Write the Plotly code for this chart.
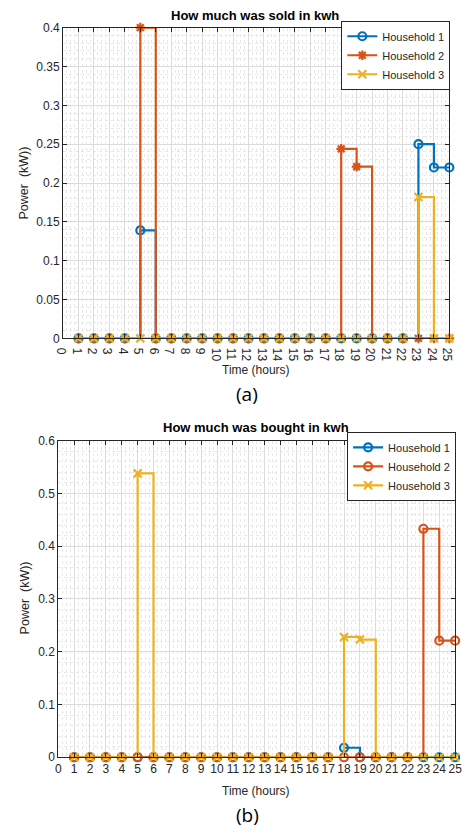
import plotly.graph_objects as go

hours = list(range(1, 26))

sold_h1 = [0, 0, 0, 0, 0.139, 0, 0, 0, 0, 0, 0, 0, 0, 0, 0, 0, 0, 0, 0, 0, 0, 0, 0.250, 0.220, 0.220]
sold_h2 = [0, 0, 0, 0, 0.400, 0, 0, 0, 0, 0, 0, 0, 0, 0, 0, 0, 0, 0.244, 0.221, 0, 0, 0, 0, 0, 0]
sold_h3 = [0, 0, 0, 0, 0, 0, 0, 0, 0, 0, 0, 0, 0, 0, 0, 0, 0, 0, 0, 0, 0, 0, 0.182, 0, 0]

bought_h1 = [0, 0, 0, 0, 0, 0, 0, 0, 0, 0, 0, 0, 0, 0, 0, 0, 0, 0.018, 0, 0, 0, 0, 0, 0, 0]
bought_h2 = [0, 0, 0, 0, 0, 0, 0, 0, 0, 0, 0, 0, 0, 0, 0, 0, 0, 0, 0, 0, 0, 0, 0.433, 0.221, 0.221]
bought_h3 = [0, 0, 0, 0, 0.538, 0, 0, 0, 0, 0, 0, 0, 0, 0, 0, 0, 0, 0.228, 0.223, 0, 0, 0, 0, 0, 0]

x_ticks = list(range(0, 26))
sold_yticks = [0, 0.05, 0.1, 0.15, 0.2, 0.25, 0.3, 0.35, 0.4]
sold_ytext = ["0", "0.05", "0.1", "0.15", "0.2", "0.25", "0.3", "0.35", "0.4"]
bought_yticks = [0, 0.1, 0.2, 0.3, 0.4, 0.5, 0.6]
bought_ytext = ["0", "0.1", "0.2", "0.3", "0.4", "0.5", "0.6"]
names = ["Household 1", "Household 2", "Household 3"]

BLUE, ORANGE, YELLOW = "#0072BD", "#D95319", "#EDB120"
W, H = 466, 839
FONT = "Liberation Sans, Arial, sans-serif"


def px_x(p):
    return p / W


def px_y(p):
    return 1 - p / H


fig = go.Figure()

top_series = [(sold_h1, BLUE, "circle-open"), (sold_h2, ORANGE, "asterisk-open"), (sold_h3, YELLOW, "x-thin-open")]
bot_series = [(bought_h1, BLUE, "circle-open"), (bought_h2, ORANGE, "circle-open"), (bought_h3, YELLOW, "x-thin-open")]

for (vals, col, sym), nm in zip(top_series, names):
    fig.add_trace(go.Scatter(
        x=hours, y=vals, name=nm, mode="lines+markers", line=dict(shape="hv", color=col, width=2.2),
        marker=dict(symbol=sym, size=8, color=col, line=dict(width=2.2, color=col)),
        cliponaxis=False, xaxis="x", yaxis="y", legend="legend"))

for (vals, col, sym), nm in zip(bot_series, names):
    fig.add_trace(go.Scatter(
        x=hours, y=vals, name=nm, mode="lines+markers", line=dict(shape="hv", color=col, width=2.2),
        marker=dict(symbol=sym, size=8, color=col, line=dict(width=2.2, color=col)),
        cliponaxis=False, xaxis="x2", yaxis="y2", legend="legend2"))

axis_common = dict(
    showline=True, linecolor="#262626", linewidth=1, mirror="ticks",
    ticks="inside", ticklen=4, tickcolor="#262626",
    showgrid=True, gridcolor="#dcdcdc", gridwidth=1,
    tickfont=dict(family=FONT, size=12, color="#262626"),
    zeroline=False, fixedrange=True,
)
minor_common = dict(showgrid=True, gridcolor="#e8e8e8", griddash="dot", ticks="")

fig.update_layout(
    width=W, height=H, margin=dict(l=0, r=0, t=0, b=0),
    paper_bgcolor="white", plot_bgcolor="white",
    showlegend=True,
    xaxis=dict(domain=[px_x(56), px_x(456)], range=[0, 25], anchor="y",
               tickvals=x_ticks, ticktext=[str(v) for v in x_ticks],
               minor=dict(dtick=0.25, **minor_common), **axis_common),
    yaxis=dict(domain=[px_y(337), px_y(21)], range=[0, 0.4], anchor="x",
               tickvals=sold_yticks, ticktext=sold_ytext,
               minor=dict(dtick=0.01, **minor_common), **axis_common),
    xaxis2=dict(domain=[px_x(51), px_x(462)], range=[0, 25], anchor="y2",
                tickvals=x_ticks, ticktext=[str(v) for v in x_ticks],
                minor=dict(dtick=0.25, **minor_common), **axis_common),
    yaxis2=dict(domain=[px_y(763), px_y(441)], range=[0, 0.6], anchor="x2",
                tickvals=bought_yticks, ticktext=bought_ytext,
                minor=dict(dtick=0.02, **minor_common), **axis_common),
    legend=dict(x=px_x(457), y=px_y(14), xanchor="right", yanchor="top",
                bgcolor="white", bordercolor="#262626", borderwidth=1,
                font=dict(family=FONT, size=11, color="#262626"), tracegroupgap=0, itemwidth=30),
    legend2=dict(x=px_x(463), y=px_y(432), xanchor="right", yanchor="top",
                 bgcolor="white", bordercolor="#262626", borderwidth=1,
                 font=dict(family=FONT, size=11, color="#262626"), tracegroupgap=0, itemwidth=30),
)

ann = []


def add_text(text, x, y, size, bold=False, angle=0, family=FONT, color="#262626"):
    ann.append(dict(text=("<b>%s</b>" % text) if bold else text, x=px_x(x), y=px_y(y),
                    xref="paper", yref="paper", showarrow=False, xanchor="center", yanchor="middle",
                    textangle=angle, font=dict(family=family, size=size, color=color)))


add_text("How much was sold in kwh", 255, 9, 13, bold=True, color="#000000")
add_text("Time (hours)", 256, 369, 12)
add_text("Power  (kW))", 16, 179, 12.5, angle=-90)
add_text("(a)", 246, 394, 19, family="Open Sans, sans-serif", color="#000000")

add_text("How much was bought in kwh", 256, 428, 13, bold=True, color="#000000")
add_text("Time (hours)", 256, 797, 12)
add_text("Power  (kW))", 17, 601, 12.5, angle=-90)
add_text("(b)", 247, 822, 19, family="Open Sans, sans-serif", color="#000000")

fig.update_layout(annotations=ann)

fig.write_html("out.html")
